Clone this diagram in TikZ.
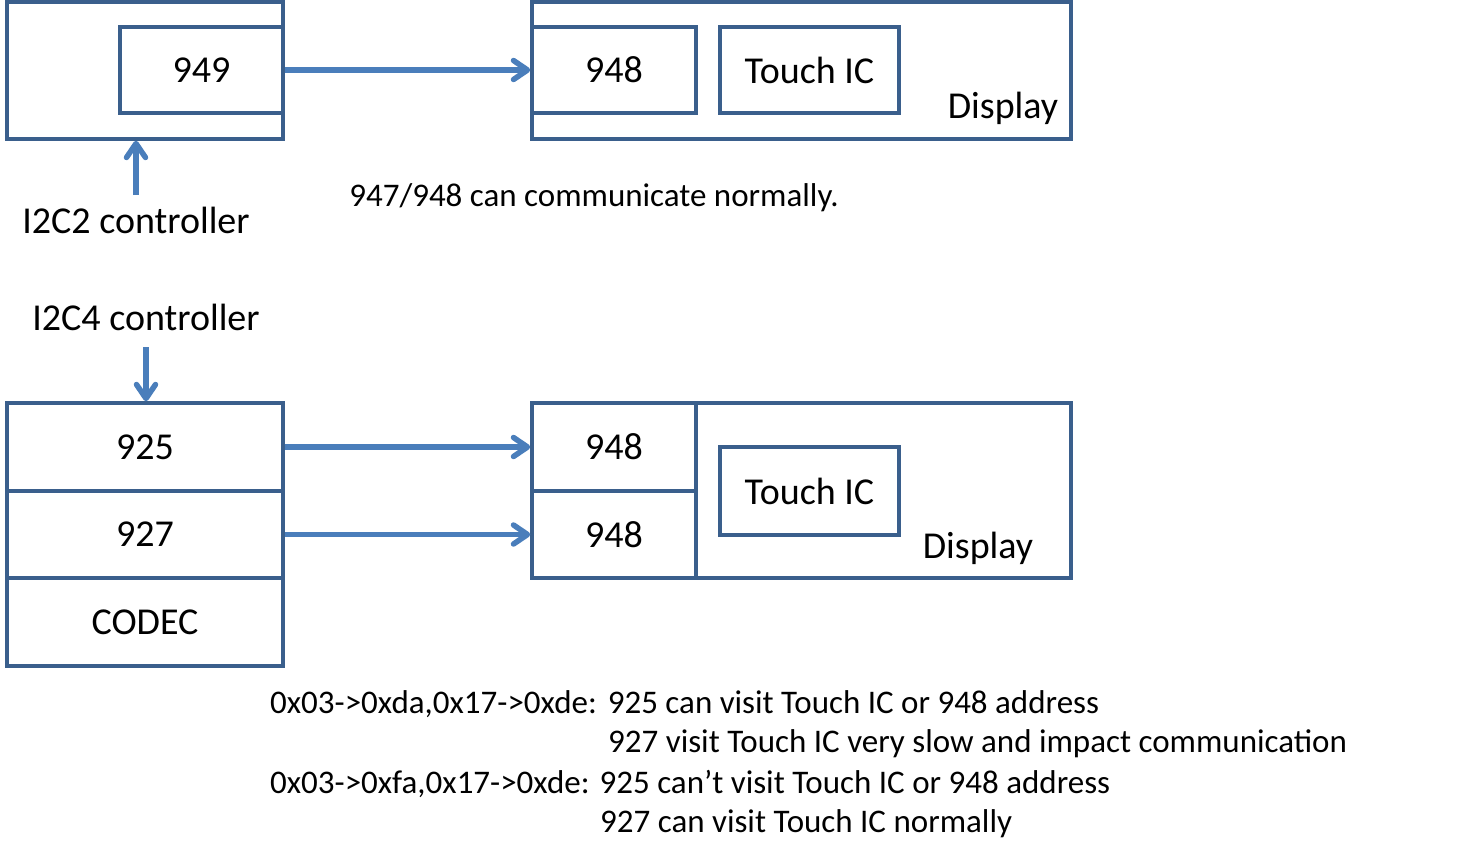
\documentclass[tikz,border=0pt]{standalone}
\usepackage{fontspec}
\setmainfont{Carlito}
\usetikzlibrary{arrows.meta}
\definecolor{boxblue}{HTML}{3A5F8C}
\definecolor{arrblue}{HTML}{4A7EBB}
\tikzset{
  blk/.style={draw=boxblue,line width=3.5pt,rectangle,inner sep=0pt,font=\fontsize{38}{42}\selectfont},
  lbl/.style={draw=none,inner sep=0pt,font=\fontsize{38}{42}\selectfont},
  note/.style={draw=none,inner sep=0pt,anchor=west,font=\fontsize{33}{36}\selectfont},
  arr/.style={draw=arrblue,line width=5.5pt,-{Straight Barb[length=14pt,width=19pt,line cap=round,line join=round]}}
}
\begin{document}
\begin{tikzpicture}[x=1pt,y=-1pt]
\useasboundingbox (0,0) rectangle (1469,863);
\begin{scope}
 % blocchi in alto
  \node (cpu1) at (145,70.5) [blk,minimum width=276pt,minimum height=137pt] {};
  \node (n949) at (201.5,70) [blk,minimum width=163pt,minimum height=86pt] {949};
  \node (disp1) at (801.5,70.5) [blk,minimum width=539pt,minimum height=137pt] {};
  \node (t948) at (614,70) [blk,minimum width=164pt,minimum height=86pt] {948};
  \node (touch1) at (809.5,70) [blk,minimum width=179pt,minimum height=86pt] {Touch IC};
  \node (dlbl1) at (1003,108) [lbl] {Display};
  \node (i2c2) at (136,220) [lbl] {I2C2 controller};
  \coordinate (from2) at (136,195);
  \node (ok) at (594,198) [lbl,font=\fontsize{33}{36}\selectfont] {947/948 can communicate normally.};
 % blocchi in basso
  \node (i2c4) at (146,317) [lbl] {I2C4 controller};
  \coordinate (from4) at (146,347);
  \node (b925) at (145,447) [blk,minimum width=276pt,minimum height=88pt] {925};
  \node (b927) at (145,534.5) [blk,minimum width=276pt,minimum height=87pt] {927};
  \node (codec) at (145,622) [blk,minimum width=276pt,minimum height=88pt] {CODEC};
  \node (disp2) at (801.5,490.5) [blk,minimum width=539pt,minimum height=175pt] {};
  \node (b948a) at (614,447) [blk,minimum width=164pt,minimum height=88pt] {948};
  \node (b948b) at (614,534.5) [blk,minimum width=164pt,minimum height=87pt] {948};
  \node (touch2) at (809.5,491) [blk,minimum width=179pt,minimum height=88pt] {Touch IC};
  \node (dlbl2) at (978,548) [lbl] {Display};
 % note
  \node (r1) at (270,704) [note] {0x03->0xda,0x17->0xde:\hspace{11pt}925 can visit Touch IC or 948 address};
  \node (r2) at (608,744) [note] {927 visit Touch IC very slow and impact communication};
  \node (r3) at (270,784) [note] {0x03->0xfa,0x17->0xde:\hspace{10pt}925 can’t visit Touch IC or 948 address};
  \node (r4) at (600,824) [note] {927 can visit Touch IC normally};
 % frecce
  \draw[arr] (n949) -- (t948);
  \draw[arr] (from2) -- (from2 |- cpu1.south);
  \draw[arr] (from4) -- (from4 |- b925.north);
  \draw[arr] (b925) -- (b948a);
  \draw[arr] (b927) -- (b948b);
\end{scope}
\end{tikzpicture}
\end{document}
